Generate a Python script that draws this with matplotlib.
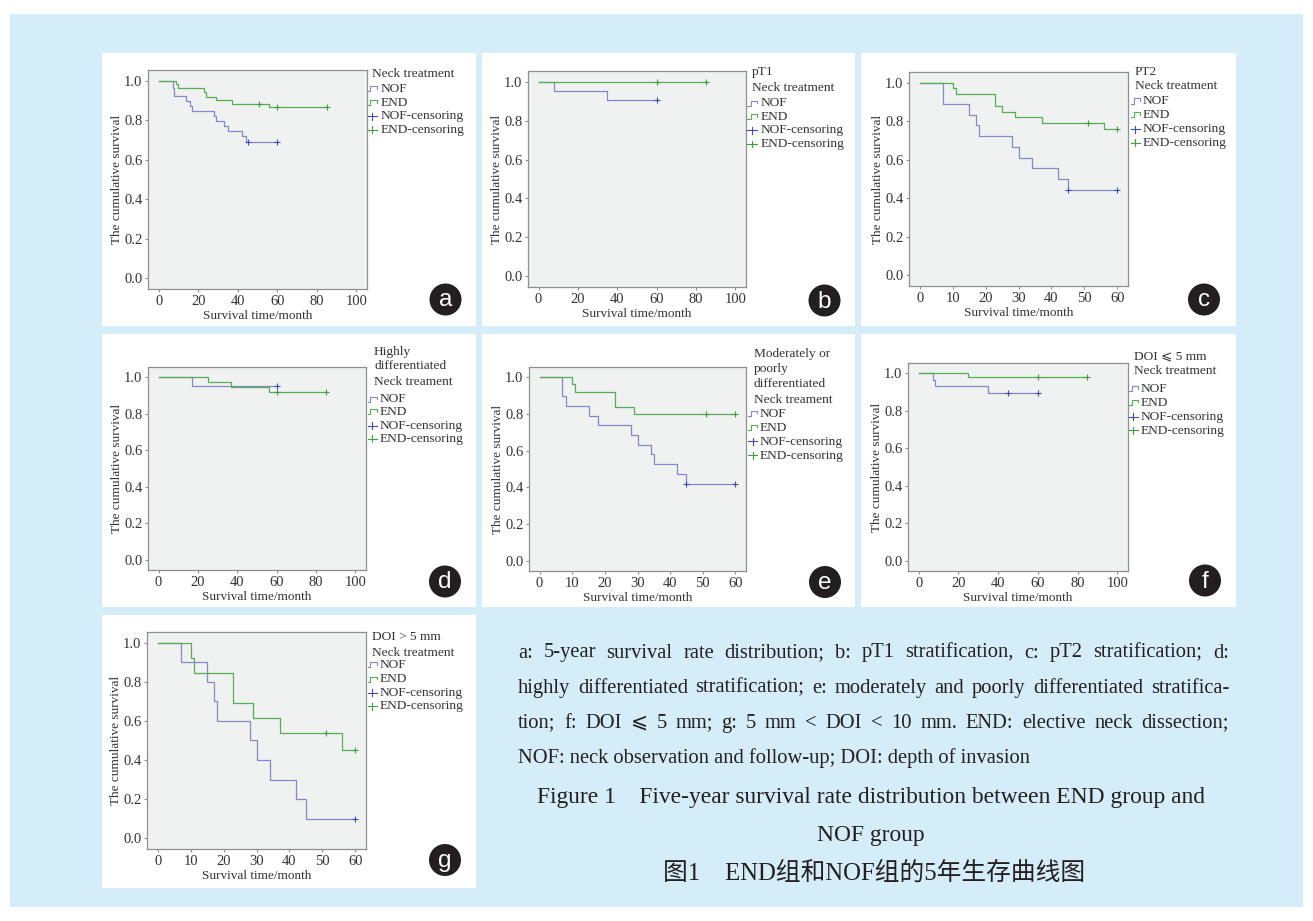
import numpy as np
import matplotlib
matplotlib.use('Agg')
import matplotlib.pyplot as plt
from matplotlib.patches import Rectangle, Ellipse
from matplotlib.lines import Line2D

plt.rcParams['font.family'] = ['Liberation Serif', 'DejaVu Serif', 'DejaVu Sans', 'Noto Sans CJK SC']

# %%
# survival data (time in months, cumulative survival)
A_NOF_T = [0, 7, 8, 14, 16, 17, 28, 29, 33, 35, 42, 44]
A_NOF_S = [1.0, 0.962, 0.923, 0.897, 0.872, 0.846, 0.821, 0.795, 0.769, 0.744, 0.718, 0.692]
A_NOF_C = [45, 60]
A_END_T = [0, 9, 10, 23, 24, 29, 37, 56]
A_END_S = [1.0, 0.983, 0.966, 0.944, 0.919, 0.902, 0.885, 0.869]
A_END_C = [51, 60, 85]

B_NOF_T = [0, 8, 35]
B_NOF_S = [1.0, 0.952, 0.905]
B_NOF_C = [60]
B_END_T = [0]
B_END_S = [1.0]
B_END_C = [60, 85]

C_NOF_T = [0, 7, 15, 17, 18, 28, 30, 34, 42, 45]
C_NOF_S = [1.0, 0.889, 0.833, 0.778, 0.722, 0.667, 0.611, 0.556, 0.500, 0.444]
C_NOF_C = [45, 60]
C_END_T = [0, 10, 11, 23, 25, 29, 37, 56]
C_END_S = [1.0, 0.970, 0.940, 0.880, 0.850, 0.820, 0.790, 0.758]
C_END_C = [51, 60]

D_NOF_T = [0, 17]
D_NOF_S = [1.0, 0.949]
D_NOF_C = [60]
D_END_T = [0, 25, 37, 56]
D_END_S = [1.0, 0.973, 0.944, 0.917]
D_END_C = [60, 85]

E_NOF_T = [0, 7, 8, 15, 18, 28, 30, 34, 35, 42, 45]
E_NOF_S = [1.0, 0.895, 0.842, 0.789, 0.737, 0.684, 0.632, 0.579, 0.526, 0.474, 0.421]
E_NOF_C = [45, 60]
E_END_T = [0, 10, 11, 23, 29]
E_END_S = [1.0, 0.96, 0.92, 0.84, 0.80]
E_END_C = [51, 60]

F_NOF_T = [0, 7, 8, 35]
F_NOF_S = [1.0, 0.966, 0.931, 0.897]
F_NOF_C = [45, 60]
F_END_T = [0, 25]
F_END_S = [1.0, 0.979]
F_END_C = [60, 85]

G_NOF_T = [0, 7, 15, 17, 18, 28, 30, 34, 42, 45]
G_NOF_S = [1.0, 0.9, 0.8, 0.7, 0.6, 0.5, 0.4, 0.3, 0.2, 0.1]
G_NOF_C = [60]
G_END_T = [0, 10, 11, 23, 29, 37, 56]
G_END_S = [1.0, 0.923, 0.846, 0.692, 0.615, 0.538, 0.449]
G_END_C = [51, 60]

LEGEND_ITEMS = ['NOF', 'END', 'NOF-censoring', 'END-censoring']
Y_TICKS = [0.0, 0.2, 0.4, 0.6, 0.8, 1.0]

CAPTION = [
    'a: 5-year survival rate distribution; b: pT1 stratification, c: pT2 stratification; d:',
    'highly differentiated stratification; e: moderately and poorly differentiated stratifica-',
    'tion; f: DOI \u2a7d 5 mm; g: 5 mm < DOI < 10 mm. END: elective neck dissection;',
    'NOF: neck observation and follow-up; DOI: depth of invasion',
]
TITLE_EN = ['Figure 1    Five-year survival rate distribution between END group and', 'NOF group']
TITLE_CN = '图1    END组和NOF组的5年生存曲线图'

# %%
W, H = 1313, 921
NOF_COLOR = '#8589c8'
NOF_MARK = '#3f4ca8'
END_COLOR = '#55ae55'
END_MARK = '#3f9f3f'
BLUE_BG = '#d5ecf9'
TXT = '#231f20'


def fx(x):
    return x / W


def fy(y):
    return 1 - y / H


fig = plt.figure(figsize=(W / 100, H / 100), dpi=100)
fig.patch.set_facecolor('white')
fig.add_artist(Rectangle((fx(10), fy(907)), fx(1293), (907 - 14) / H,
                         transform=fig.transFigure, facecolor=BLUE_BG, edgecolor='none', zorder=-3))

# panel layout: box, axes, xmax, header, legend positions, badge
panels = [
    dict(box=(102, 53, 476, 326), ax=(148, 70, 367, 289), xmax=100,
         nof=(A_NOF_T, A_NOF_S, A_NOF_C), end=(A_END_T, A_END_S, A_END_C),
         head=['Neck treatment'], head_y=[74], item_y=[89, 102.5, 116, 129.5],
         hx=371.5, gx=367.5, tx=381, badge=(445.5, 299.5), letter='a'),
    dict(box=(482, 53, 855, 326), ax=(528, 71, 746, 287), xmax=100,
         nof=(B_NOF_T, B_NOF_S, B_NOF_C), end=(B_END_T, B_END_S, B_END_C),
         head=['pT1', 'Neck treatment'], head_y=[72.5, 88], item_y=[103, 116.5, 130, 144],
         hx=751.5, gx=747.5, tx=761, badge=(824.5, 300.5), letter='b'),
    dict(box=(861, 53, 1236, 326), ax=(909, 72, 1128, 286), xmax=60,
         nof=(C_NOF_T, C_NOF_S, C_NOF_C), end=(C_END_T, C_END_S, C_END_C),
         head=['PT2', 'Neck treatment'], head_y=[72, 86], item_y=[101, 114.5, 129, 142.5],
         hx=1135, gx=1130.5, tx=1143, badge=(1204, 299.5), letter='c'),
    dict(box=(102, 334, 476, 607), ax=(148, 367, 366, 570), xmax=100,
         nof=(D_NOF_T, D_NOF_S, D_NOF_C), end=(D_END_T, D_END_S, D_END_C),
         head=['Highly', 'differentiated', 'Neck treament'], head_y=[352, 366, 382],
         item_y=[399.5, 412, 426, 439], hx=374, gx=367.5, tx=380, badge=(445, 581.5), letter='d'),
    dict(box=(482, 334, 855, 607), ax=(529, 367, 746, 571), xmax=60,
         nof=(E_NOF_T, E_NOF_S, E_NOF_C), end=(E_END_T, E_END_S, E_END_C),
         head=['Moderately or', 'poorly', 'differentiated', 'Neck treament'],
         head_y=[353.5, 369, 384, 400], item_y=[413.5, 427.5, 441.5, 455.5],
         hx=753.5, gx=748, tx=760, badge=(825, 582), letter='e'),
    dict(box=(861, 334, 1236, 607), ax=(908, 363, 1128, 571), xmax=100,
         nof=(F_NOF_T, F_NOF_S, F_NOF_C), end=(F_END_T, F_END_S, F_END_C),
         head=['DOI \u2a7d 5 mm', 'Neck treatment'], head_y=[356, 371],
         item_y=[389, 402.5, 417, 430.5], hx=1134, gx=1128.5, tx=1141, badge=(1205, 580.5), letter='f'),
    dict(box=(102, 615, 476, 888), ax=(147, 632, 366, 849), xmax=60,
         nof=(G_NOF_T, G_NOF_S, G_NOF_C), end=(G_END_T, G_END_S, G_END_C),
         head=['DOI > 5 mm', 'Neck treatment'], head_y=[637.5, 652.5],
         item_y=[664.5, 679, 692.5, 706], hx=371.5, gx=367.5, tx=380, badge=(445, 860), letter='g'),
]


def draw_km(ax, data, color, mark_color):
    t, s, cens = data
    t_end = max(t + cens)
    ax.step(t + [t_end], s + [s[-1]], where='post', color=color, lw=0.9, zorder=3)
    idx = np.searchsorted(t, cens, side='right') - 1
    ax.plot(cens, np.array(s)[idx], ls='none', marker='+', ms=4.5, mew=0.8,
            color=mark_color, zorder=4)


def line_px(xs, ys, **kw):
    fig.add_artist(Line2D([fx(x) for x in xs], [fy(y) for y in ys],
                          transform=fig.transFigure, **kw))


for p in panels:
    l, t, r, b = p['box']
    fig.add_artist(Rectangle((fx(l), fy(b)), (r - l) / W, (b - t) / H,
                             transform=fig.transFigure, facecolor='white', edgecolor='none', zorder=-2))
    l, t, r, b = p['ax']
    ax = fig.add_axes([fx(l), fy(b), (r - l) / W, (b - t) / H])
    ax.set_facecolor('#f0f1f1')
    for sp in ax.spines.values():
        sp.set_color('#8f8f8f')
        sp.set_linewidth(0.9)
    draw_km(ax, p['nof'], NOF_COLOR, NOF_MARK)
    draw_km(ax, p['end'], END_COLOR, END_MARK)
    xmax = p['xmax']
    step = 20 if xmax == 100 else 10
    ax.set_xticks(range(0, xmax + 1, step))
    ax.set_yticks(Y_TICKS)
    ax.set_yticklabels(['{:.1f}'.format(v) for v in Y_TICKS])
    ax.set_xlim(-0.054 * xmax, 1.054 * xmax)
    ax.set_ylim(-0.055, 1.055)
    ax.tick_params(direction='out', length=2.5, width=0.8, color='#8f8f8f',
                   labelsize=10.5, labelcolor='#333333', pad=1.5)
    ax.set_xlabel('Survival time/month', fontsize=9.5, color='#333333', labelpad=1.5)
    ax.set_ylabel('The cumulative survival', fontsize=9.5, color='#333333', labelpad=0.5)

    # legend built by hand, SPSS style
    for txt, y in zip(p['head'], p['head_y']):
        fig.text(fx(p['hx']), fy(y), txt, fontsize=9.6, color='#333333', va='center', zorder=5)
    gx = p['gx']
    for k, (name, y) in enumerate(zip(LEGEND_ITEMS, p['item_y'])):
        c = [NOF_COLOR, END_COLOR, NOF_MARK, END_MARK][k]
        if k < 2:
            line_px([gx, gx + 3, gx + 3, gx + 9, gx + 9], [y + 2.5, y + 2.5, y - 2.5, y - 2.5, y],
                    color=c, lw=0.8, zorder=5)
        else:
            line_px([gx, gx + 9], [y, y], color=c, lw=0.8, zorder=5)
            line_px([gx + 4.5, gx + 4.5], [y - 3.5, y + 3.5], color=c, lw=0.8, zorder=5)
        fig.text(fx(p['tx']), fy(y), name, fontsize=9.6, color='#333333', va='center', zorder=5)

    bx, by = p['badge']
    fig.add_artist(Ellipse((fx(bx), fy(by)), 32 / W, 32 / H, transform=fig.transFigure,
                           facecolor='#231f20', edgecolor='none', zorder=5))
    fig.text(fx(bx), fy(by + 1), p['letter'], fontsize=17.5, color='white', family='Liberation Sans',
             ha='center', va='center', zorder=6)

# %%
# caption, first three lines justified
renderer = fig.canvas.get_renderer()
x0, x1 = 518, 1229
cap_y = [653, 688, 723, 758]
for k, (line, y) in enumerate(zip(CAPTION, cap_y)):
    if k == len(CAPTION) - 1:
        fig.text(fx(x0), fy(y), line, fontsize=14.8, color=TXT, va='center')
        continue
    words = line.split(' ')
    arts = [fig.text(fx(x0), fy(y), w, fontsize=14.8, color=TXT, va='center') for w in words]
    widths = [a.get_window_extent(renderer).width for a in arts]
    gap = (x1 - x0 - sum(widths)) / (len(words) - 1)
    x = x0
    for a, w in zip(arts, widths):
        a.set_x(fx(x))
        x += w + gap

fig.text(fx(870.5), fy(797), TITLE_EN[0], fontsize=16.9, color=TXT, ha='center', va='center')
fig.text(fx(871), fy(835), TITLE_EN[1], fontsize=16.9, color=TXT, ha='center', va='center')
fig.text(fx(874), fy(873), TITLE_CN, fontsize=17.8, color=TXT, ha='center', va='center')

fig.savefig('out.png', dpi=100, facecolor=fig.get_facecolor())
